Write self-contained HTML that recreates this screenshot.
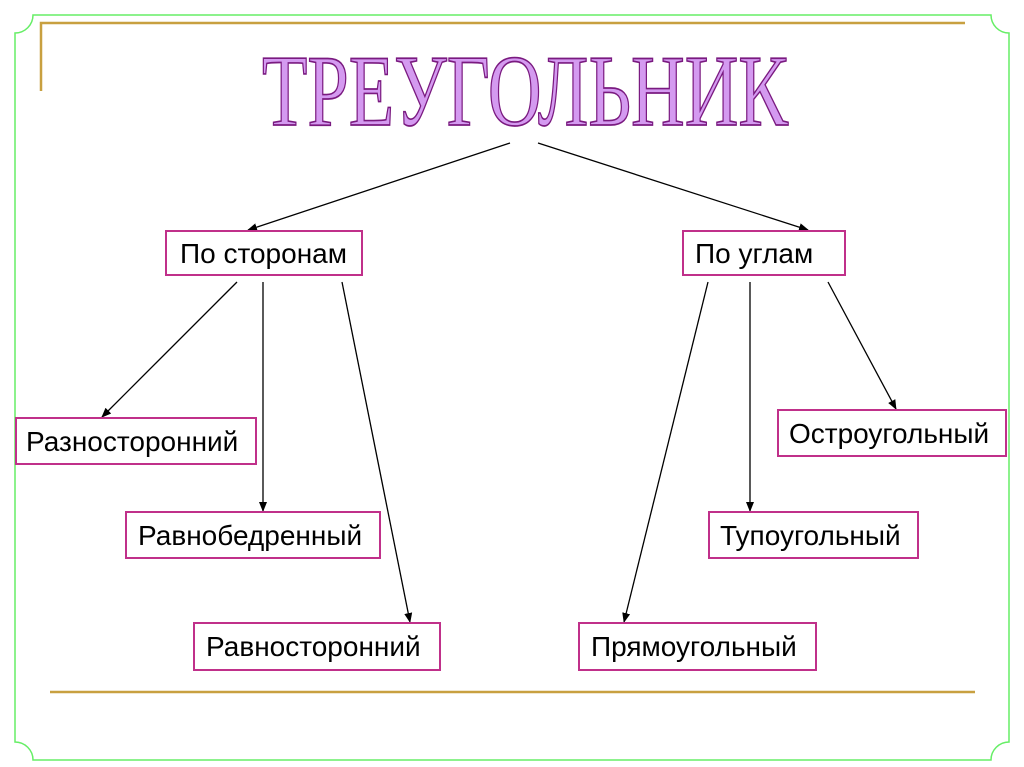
<!DOCTYPE html>
<html><head><meta charset="utf-8"><style>
body{margin:0;background:#fff;width:1024px;height:767px;overflow:hidden;}
svg{display:block}
</style></head><body>
<svg width="1024" height="767" viewBox="0 0 1024 767" xmlns="http://www.w3.org/2000/svg">
<defs><marker id="a" markerWidth="10" markerHeight="10" refX="9" refY="5" orient="auto" markerUnits="userSpaceOnUse"><path d="M0,1 L10,5 L0,9 Z" fill="#000"/></marker></defs>
<path d="M33,15 L991,15 A18,18 0 0 0 1009,33 L1009,742 A18,18 0 0 0 991,760 L33,760 A18,18 0 0 0 15,742 L15,33 A18,18 0 0 0 33,15 Z" fill="none" stroke="#66ee66" stroke-width="1.5"/>
<path d="M41,91 L41,23 L965,23" fill="none" stroke="#c8a040" stroke-width="2.5"/>
<line x1="50" y1="692" x2="975" y2="692" stroke="#c8a040" stroke-width="2.5"/>
<g transform="translate(262,125) scale(1,1.5)">
<text x="0" y="0" font-family="Liberation Serif, serif" font-size="68" textLength="526" lengthAdjust="spacingAndGlyphs" fill="#d49af0" stroke="#7a1a80" stroke-width="1.1">ТРЕУГОЛЬНИК</text>
</g>
<g stroke="#000" stroke-width="1.3" marker-end="url(#a)">
<line x1="510" y1="143" x2="248" y2="230"/>
<line x1="538" y1="143" x2="808" y2="230"/>
<line x1="237" y1="282" x2="102" y2="417"/>
<line x1="263" y1="282" x2="263" y2="511"/>
<line x1="342" y1="282" x2="410" y2="622"/>
<line x1="708" y1="282" x2="624" y2="622"/>
<line x1="750" y1="282" x2="750" y2="511"/>
<line x1="828" y1="282" x2="896" y2="409"/>
</g>
<g fill="#fff" stroke="#c0308a" stroke-width="2">
<rect x="166" y="231" width="196" height="44"/>
<rect x="683" y="231" width="162" height="44"/>
<rect x="16" y="418" width="240" height="46"/>
<rect x="126" y="512" width="254" height="46"/>
<rect x="194" y="623" width="246" height="47"/>
<rect x="778" y="410" width="228" height="46"/>
<rect x="709" y="512" width="209" height="46"/>
<rect x="579" y="623" width="237" height="47"/>
</g>
<g font-family="Liberation Sans, sans-serif" font-size="28" fill="#000">
<text x="180" y="263">По сторонам</text>
<text x="695" y="263">По углам</text>
<text x="26" y="451">Разносторонний</text>
<text x="138" y="545">Равнобедренный</text>
<text x="206" y="656">Равносторонний</text>
<text x="789" y="443">Остроугольный</text>
<text x="720" y="545">Тупоугольный</text>
<text x="591" y="656">Прямоугольный</text>
</g>
</svg>
</body></html>
